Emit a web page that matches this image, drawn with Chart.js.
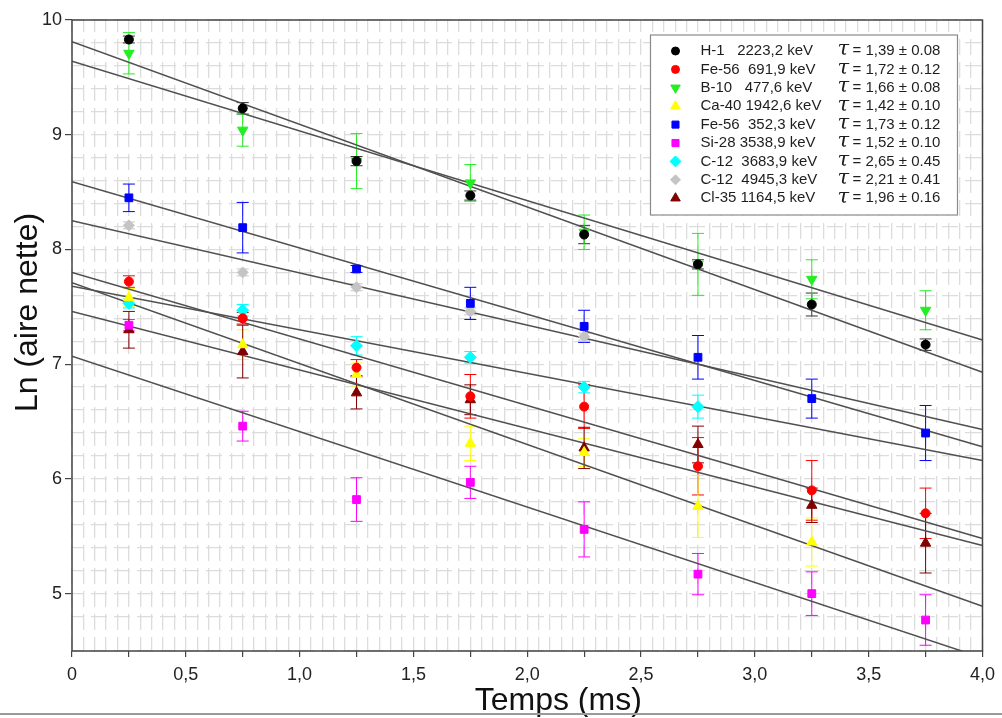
<!DOCTYPE html>
<html>
<head>
<meta charset="utf-8">
<script src="https://cdn.jsdelivr.net/npm/chart.js@4.4.1/dist/chart.umd.min.js"></script>
<style>
  html, body { margin: 0; padding: 0; background: #fff; }
  #wrap { position: relative; width: 1002px; height: 718px; }
  #rule { position: absolute; left: 0; top: 713px; width: 1002px; height: 2px; background: #9a9a9a; }
</style>
</head>
<body>
<div id="wrap"><canvas id="c"></canvas><div id="rule"></div></div>
<script>
// Ln(aire nette) vs temps, décroissance des raies gamma.
const times = [0.25, 0.75, 1.25, 1.75, 2.25, 2.75, 3.25, 3.75];
const xTicks = [0, 0.25, 0.5, 0.75, 1, 1.25, 1.5, 1.75, 2, 2.25, 2.5, 2.75, 3, 3.25, 3.5, 3.75, 4];
const yTicks = [5, 6, 7, 8, 9, 10];

// legend order
const names = ['H-1   2223,2 keV', 'Fe-56  691,9 keV', 'B-10   477,6 keV', 'Ca-40 1942,6 keV', 'Fe-56  352,3 keV',
  'Si-28 3538,9 keV', 'C-12  3683,9 keV', 'C-12  4945,3 keV', 'Cl-35 1164,5 keV'];
const taus = ['1,39 ± 0.08', '1,72 ± 0.12', '1,66 ± 0.08', '1,42 ± 0.10', '1,73 ± 0.12', '1,52 ± 0.10', '2,65 ± 0.45', '2,21 ± 0.41', '1,96 ± 0.16'];
const colors = ['#000000', '#ff0000', '#22ee22', '#ffff00', '#0000ff', '#ff00ff', '#00ffff', '#c4c4c4', '#800000'];
const styles = ['circle', 'circle', 'triangle', 'triangle', 'rect', 'rect', 'rectRot', 'rectRot', 'triangle'];
const rotations = [0, 0, 180, 0, 0, 0, 0, 0, 0];
const radii = [4.5, 4.5, 6, 6, 5.5, 5.5, 6, 5.5, 6];

const h1 = [9.83, 9.23, 8.77, 8.47, 8.13, 7.87, 7.52, 7.17];
const h1Err = [0.03, 0.05, 0.04, 0.04, 0.08, 0.04, 0.10, 0.05];
const fe692 = [7.72, 7.40, 6.97, 6.72, 6.63, 6.11, 5.90, 5.70];
const fe692Err = [0.05, 0.05, 0.07, 0.19, 0.19, 0.25, 0.26, 0.22];
const b10 = [9.71, 9.04, 8.77, 8.58, 8.15, 7.87, 7.74, 7.47];
const b10Err = [0.18, 0.14, 0.24, 0.16, 0.15, 0.27, 0.17, 0.17];
const ca40 = [7.58, 7.17, 6.91, 6.31, 6.23, 5.76, 5.45, null];
const ca40Err = [0.08, 0.13, 0.10, 0.15, 0.12, 0.27, 0.21, null];
const fe352 = [8.45, 8.19, 7.83, 7.53, 7.33, 7.06, 6.70, 6.40];
const fe352Err = [0.12, 0.22, 0.03, 0.14, 0.14, 0.19, 0.17, 0.24];
const si28 = [7.34, 6.46, 5.82, 5.97, 5.56, 5.17, 5.00, 4.77];
const si28Err = [0.05, 0.13, 0.19, 0.14, 0.24, 0.18, 0.19, 0.22];
const c3684 = [7.53, 7.47, 7.16, 7.06, 6.80, 6.63, null, null];
const c3684Err = [0.04, 0.05, 0.08, 0.05, 0.05, 0.10, null, null];
const c4945 = [8.21, 7.80, 7.67, 7.46, 7.24, null, null, null];
const c4945Err = [0.03, 0.03, 0.03, 0.03, 0.03, null, null, null];
const cl35 = [7.30, 7.11, 6.75, 6.69, 6.27, 6.30, 5.77, 5.44];
const cl35Err = [0.16, 0.23, 0.14, 0.13, 0.18, 0.16, 0.15, 0.26];

// fitted lines, value at t = 0 and t = 4 ms
const fitStart = [9.81, 7.80, 9.64, 7.71, 8.59, 7.07, 7.68, 8.25, 7.46];
const fitEnd = [6.93, 5.48, 7.21, 4.89, 6.28, 4.44, 6.16, 6.43, 5.42];

const vals = [h1, fe692, b10, ca40, fe352, si28, c3684, c4945, cl35];
const errs = [h1Err, fe692Err, b10Err, ca40Err, fe352Err, si28Err, c3684Err, c4945Err, cl35Err];

const FONT = '"Liberation Sans", Arial, sans-serif';
const fmt = (v) => (v === 0 ? '0' : v.toFixed(1).replace('.', ','));

const fitSets = fitStart.map((s, i) => ({
  type: 'line', data: [{ x: 0, y: s }, { x: 4, y: fitEnd[i] }],
  borderColor: '#505050', borderWidth: 1.5, pointRadius: 0, order: 2
}));
const pointSets = vals.map((v, i) => ({
  type: 'scatter',
  data: times.map((t, j) => ({ x: t, y: v[j] })).filter((p) => p.y != null),
  pointStyle: styles[i], rotation: rotations[i], radius: radii[i],
  backgroundColor: colors[i], borderColor: colors[i], borderWidth: 1, order: 1
}));

const errorBars = {
  id: 'errorBars',
  beforeDatasetsDraw(chart) {
    const { ctx, scales: { x, y } } = chart;
    ctx.save();
    ctx.lineWidth = 1;
    vals.forEach((v, i) => {
      ctx.strokeStyle = i === 0 ? '#333' : colors[i];
      times.forEach((t, j) => {
        if (v[j] == null) return;
        const px = x.getPixelForValue(t);
        const y1 = y.getPixelForValue(v[j] + errs[i][j]), y2 = y.getPixelForValue(v[j] - errs[i][j]);
        ctx.beginPath();
        ctx.moveTo(px, y1); ctx.lineTo(px, y2);
        ctx.moveTo(px - 6, y1); ctx.lineTo(px + 6, y1);
        ctx.moveTo(px - 6, y2); ctx.lineTo(px + 6, y2);
        ctx.stroke();
      });
    });
    ctx.restore();
  }
};

const frameAndLegend = {
  id: 'frameAndLegend',
  afterDraw(chart) {
    const { ctx, chartArea: a } = chart;
    ctx.save();
    ctx.strokeStyle = '#444'; ctx.lineWidth = 1.5;
    ctx.strokeRect(a.left, a.top, a.right - a.left, a.bottom - a.top);
    // axis titles sit a little off the plot centre in the original
    ctx.fillStyle = '#111'; ctx.font = '32px ' + FONT;
    ctx.textAlign = 'center'; ctx.textBaseline = 'middle';
    ctx.fillText('Temps (ms)', (a.left + a.right) / 2 + 31, a.bottom + 50);
    ctx.save();
    ctx.translate(a.left - 44, (a.top + a.bottom) / 2 - 23);
    ctx.rotate(-Math.PI / 2);
    ctx.fillText('Ln (aire nette)', 0, 0);
    ctx.restore();
    // legend box
    const bx = a.right - 332, by = a.top + 15, bw = 307, bh = 180;
    ctx.fillStyle = '#fff'; ctx.fillRect(bx, by, bw, bh);
    ctx.strokeStyle = '#8a8a8a'; ctx.lineWidth = 1.2; ctx.strokeRect(bx, by, bw, bh);
    ctx.textAlign = 'left';
    names.forEach((n, i) => {
      const ry = by + 16 + i * 18.4;
      ctx.fillStyle = colors[i]; ctx.strokeStyle = colors[i]; ctx.lineWidth = 1;
      Chart.helpers.drawPoint(ctx, { pointStyle: styles[i], rotation: rotations[i], radius: radii[i] - 0.5, borderWidth: 1 }, bx + 25, ry);
      ctx.fillStyle = '#1e1e1e';
      ctx.font = '15px ' + FONT;
      ctx.fillText(n, bx + 50, ry);
      ctx.font = 'italic 21px "DejaVu Serif", serif';
      ctx.fillText('τ', bx + 187, ry - 1);
      ctx.font = '15px ' + FONT;
      ctx.fillText('= ' + taus[i], bx + 202, ry);
    });
    ctx.restore();
  }
};

new Chart(document.getElementById('c'), {
  data: { datasets: [...fitSets, ...pointSets] },
  options: {
    responsive: true, maintainAspectRatio: false, animation: false,
    layout: { padding: { top: 20, right: 17, left: 0, bottom: 0 } },
    plugins: { legend: { display: false }, tooltip: { enabled: false } },
    scales: {
      x: {
        type: 'linear', position: 'bottom', min: 0, max: 4,
        afterBuildTicks: (s) => { s.ticks = xTicks.map((v) => ({ value: v })); },
        afterFit: (s) => { s.height = 67; },
        ticks: {
          autoSkip: false, maxRotation: 0, padding: 7, color: '#222', font: { family: FONT, size: 18 },
          callback: (v) => (Math.abs(v * 2 - Math.round(v * 2)) < 1e-6 ? fmt(v) : '')
        },
        grid: { drawOnChartArea: false, drawTicks: true, tickLength: 6, color: '#444', lineWidth: 1.2 },
        border: { display: false },
        title: { display: false }
      },
      y: {
        type: 'linear', position: 'left', min: 4.5, max: 10,
        afterBuildTicks: (s) => { s.ticks = yTicks.map((v) => ({ value: v })); },
        afterFit: (s) => { s.width = 72; },
        ticks: { padding: 3, color: '#222', font: { family: FONT, size: 18 } },
        grid: { drawOnChartArea: false, drawTicks: true, tickLength: 7, color: '#444', lineWidth: 1.2 },
        border: { display: false },
        title: { display: false }
      },
      xg: {
        type: 'linear', position: 'top', min: 0, max: 4,
        afterFit: (s) => { s.height = 0; },
        ticks: { display: false, stepSize: 0.05 },
        grid: { drawTicks: false, color: '#dcdcdc', lineWidth: 1.3 },
        border: { display: false, dash: [16, 7], dashOffset: 4 }
      },
      yg: {
        type: 'linear', position: 'right', min: 4.5, max: 10,
        afterFit: (s) => { s.width = 0; },
        ticks: { display: false, stepSize: 0.2 },
        grid: { drawTicks: false, color: '#dcdcdc', lineWidth: 1.3 },
        border: { display: false, dash: [16, 7], dashOffset: 4 }
      }
    }
  },
  plugins: [errorBars, frameAndLegend]
});
</script>
</body>
</html>
